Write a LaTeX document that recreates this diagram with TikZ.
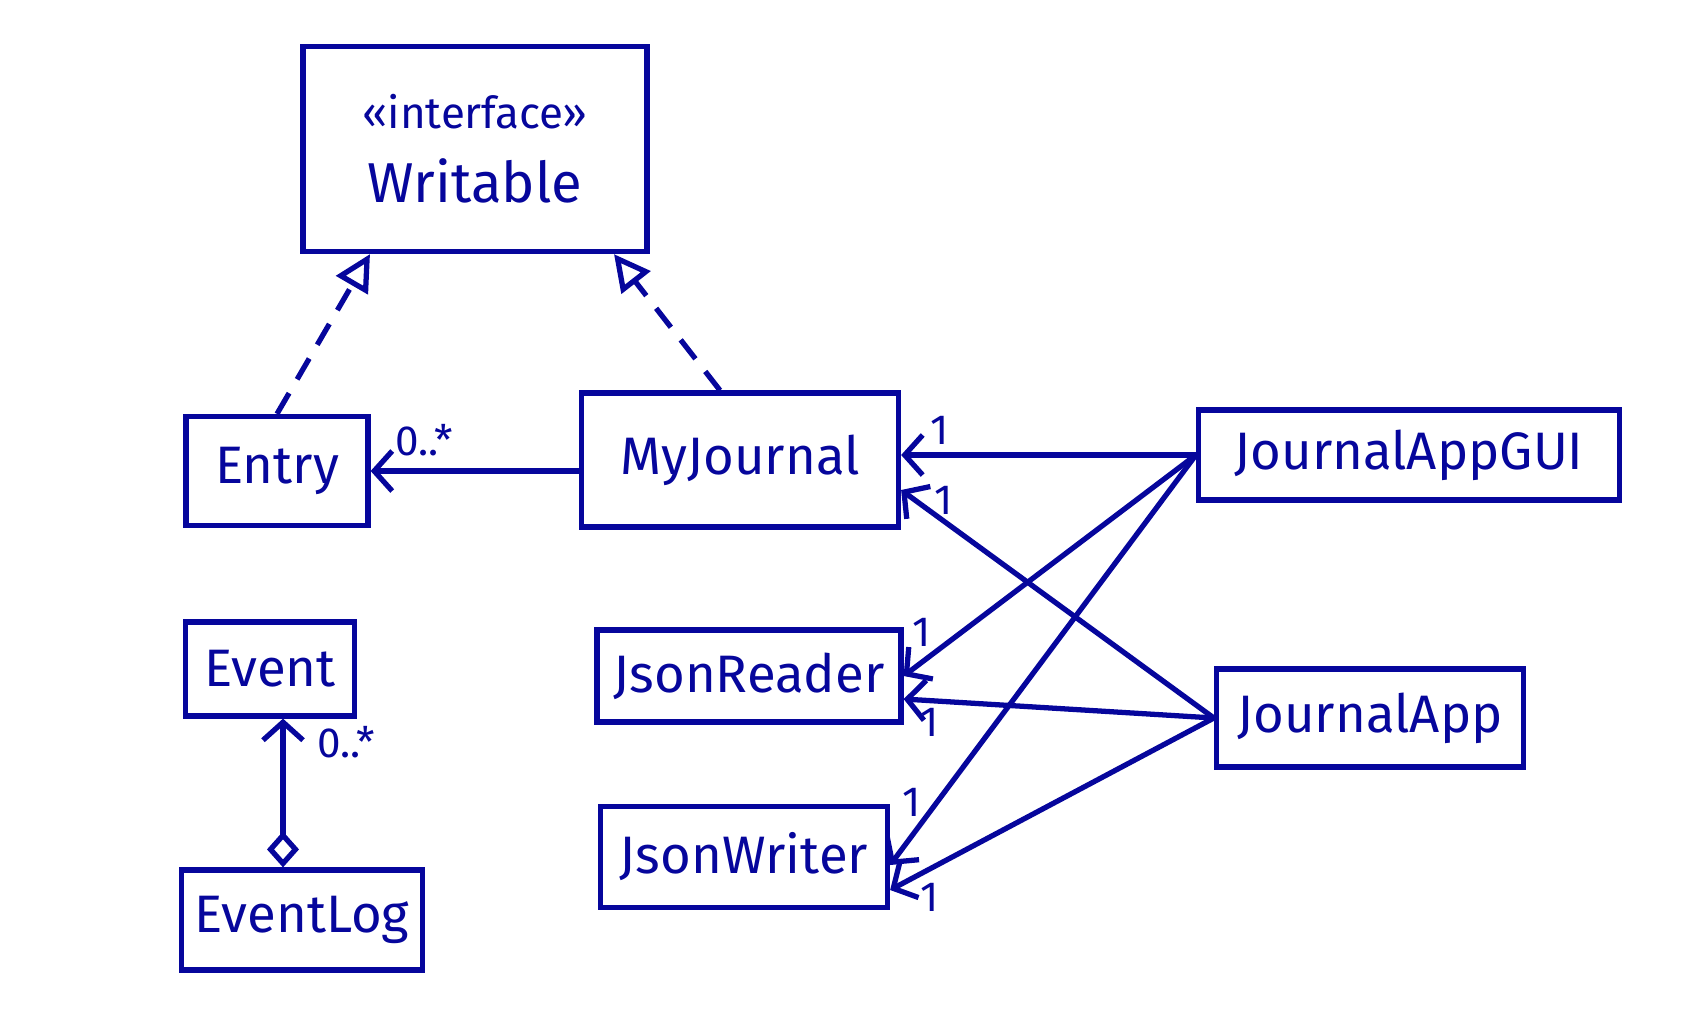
\documentclass[tikz,border=0pt]{standalone}
\usepackage{fontspec}
\setmainfont{Fira Sans}
\usetikzlibrary{arrows.meta}
\usetikzlibrary{calc}
\definecolor{white}{rgb}{1.0, 1.0, 1.0}
\definecolor{ink}{RGB}{6,6,156}
\pgfdeclarelayer{edgelayer}
\pgfdeclarelayer{nodelayer}
\pgfsetlayers{edgelayer,nodelayer,main}
\tikzstyle{cls}=[rectangle,fill=white,draw=ink,line width=1.5pt,text=ink,inner sep=0pt,align=center,font=\fontsize{15}{18}\selectfont]
\tikzstyle{mult}=[text=ink,inner sep=1pt,font=\fontsize{12}{14}\selectfont]
\tikzstyle{assoc}=[draw=ink,line width=1.5pt,-{Straight Barb[length=1.8mm,width=4mm]}]
\tikzstyle{realize}=[draw=ink,line width=1.5pt,dash pattern=on 2.4mm off 1.6mm,-{Triangle[open,length=3.6mm,width=3.6mm]}]
\tikzstyle{aggr}=[draw=ink,line width=1.5pt,{Diamond[open,length=3.6mm,width=3.2mm]}-{Straight Barb[length=1.8mm,width=4mm]}]

\begin{document}
\begin{tikzpicture}[x=0.1mm,y=-0.1mm]
        \useasboundingbox (0,0) rectangle (1698,1029);
        \begin{pgfonlayer}{nodelayer}
            \node [style = cls, minimum width=34.4mm, minimum height=20.5mm] (wr) at (475,149) {{\fontsize{12.5}{15}\selectfont «interface»}\\[3pt] {\fontsize{16}{19}\selectfont Writable}};
            \node [style = cls, minimum width=18.2mm, minimum height=10.9mm] (entry) at (277,471) {Entry};
            \node [style = cls, minimum width=31.7mm, minimum height=13.4mm] (mj) at (740,460) {MyJournal};
            \node [style = cls, minimum width=16.9mm, minimum height=9.4mm] (event) at (270,669) {Event};
            \node [style = cls, minimum width=24.1mm, minimum height=10mm] (evlog) at (302,920) {EventLog};
            \node [style = cls, minimum width=30.4mm, minimum height=9.2mm] (jr) at (749,676) {JsonReader};
            \node [style = cls, minimum width=28.7mm, minimum height=10.1mm] (jw) at (744,857) {JsonWriter};
            \node [style = cls, minimum width=42.1mm, minimum height=9mm] (gui) at (1409,455) {JournalAppGUI};
            \node [style = cls, minimum width=30.7mm, minimum height=9.8mm] (app) at (1370,718) {JournalApp};

            \node [style = mult] (m_entry) at (424,440) {0..*};
            \node [style = mult] (m_event) at (346,742) {0..*};
            \node [style = mult] (m_mj1) at (940,430) {1};
            \node [style = mult] (m_mj2) at (944,500) {1};
            \node [style = mult] (m_jr1) at (922,632) {1};
            \node [style = mult] (m_jr2) at (930,722) {1};
            \node [style = mult] (m_jw1) at (912,802) {1};
            \node [style = mult] (m_jw2) at (930,897) {1};
        \end{pgfonlayer}

        \begin{pgfonlayer}{edgelayer}
            \draw [style = realize] (entry.north) to ($(wr.south)+(-105,0)$);
            \draw [style = realize] ($(mj.north)+(-20,0)$) to ($(wr.south)+(139,0)$);

            \draw [style = assoc] (mj.west |- entry.east) to (entry.east);

            \draw [style = assoc] (gui.west) to (gui.west -| mj.east);
            \draw [style = assoc] (gui.west) to (jr.east);
            \draw [style = assoc] (gui.west) to ($(jw.east)+(0,8)$);

            \draw [style = assoc] (app.west) to ($(mj.east)+(0,30)$);
            \draw [style = assoc] (app.west) to ($(jr.east)+(0,23)$);
            \draw [style = assoc] (app.west) to ($(jw.east)+(0,33)$);

            \draw [style = aggr] ($(evlog.north)+(-19,0)$) to ($(event.south)+(13,0)$);
        \end{pgfonlayer}
    \end{tikzpicture}
\end{document}
